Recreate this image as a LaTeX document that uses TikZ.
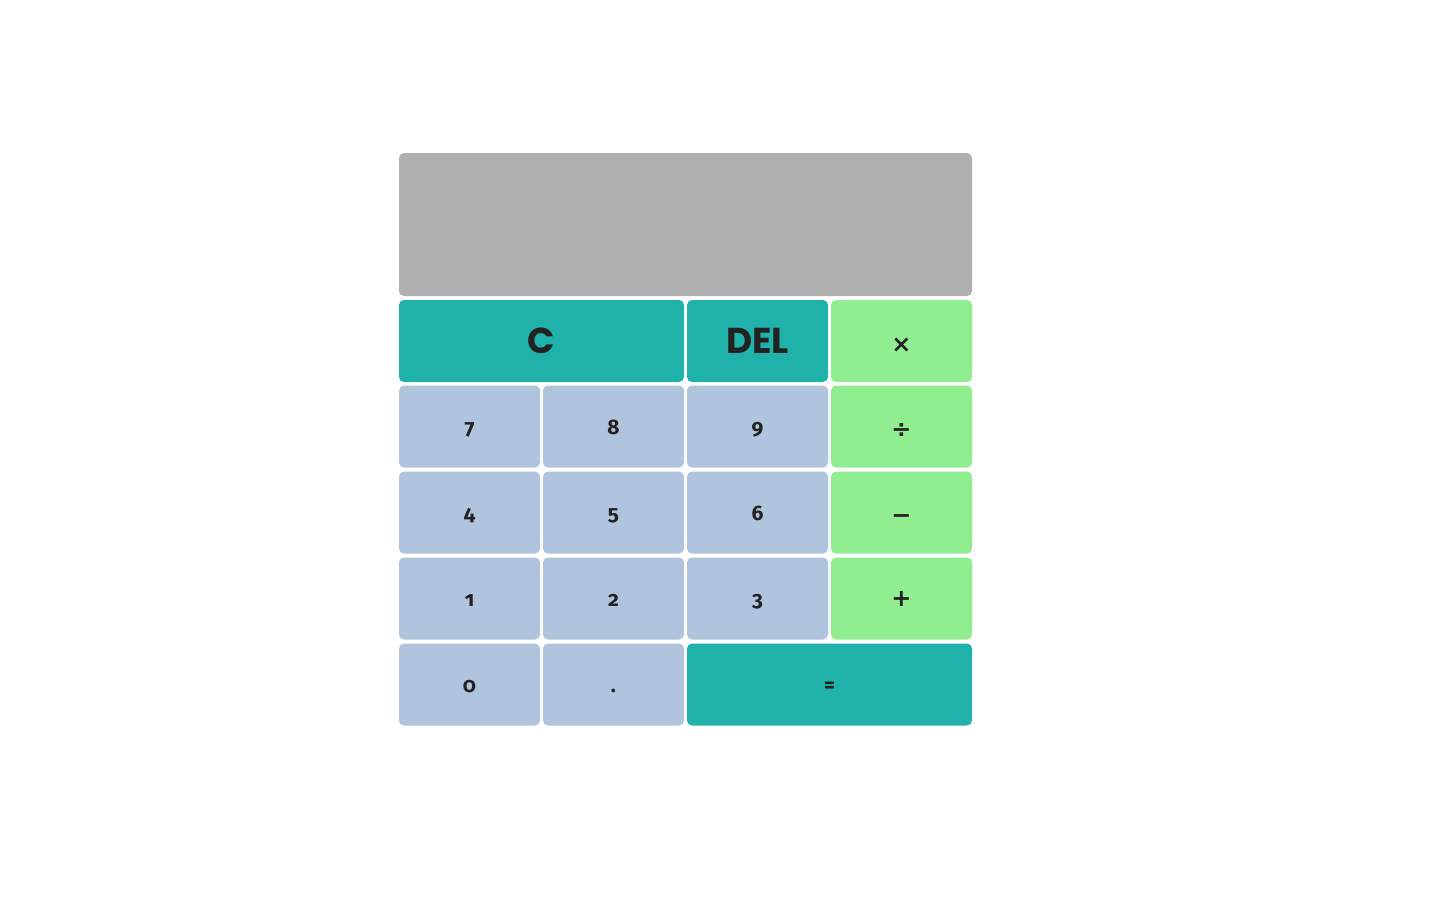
\documentclass[tikz,border=0pt]{standalone}
\usepackage{fontspec}
\setmainfont{Fira Sans}[Numbers=OldStyle]
\newfontfamily\letterfont{Poppins}
\newfontfamily\opfont{DejaVu Sans}
\usetikzlibrary{positioning}

\definecolor{screengray}{HTML}{B0B0B0}
\definecolor{seagreen}{HTML}{20B2AA}
\definecolor{softgreen}{HTML}{90EE90}
\definecolor{steelblue}{HTML}{B0C4DE}
\definecolor{keyink}{HTML}{222222}

\tikzset{
  key/.style={rectangle, rounded corners=5pt, minimum width=141pt, minimum height=82pt,
    inner sep=0pt, text=keyink, font=\fontsize{21}{21}\selectfont\bfseries,
    text height=15pt, text depth=0pt},
  numkey/.style={key, fill=steelblue},
  opkey/.style={key, fill=softgreen, font=\opfont\fontsize{24}{24}\selectfont\bfseries},
  fnkey/.style={key, fill=seagreen},
  bigtext/.style={font=\letterfont\fontsize{36}{36}\selectfont\bfseries, text height=24pt}
}

\begin{document}
\begin{tikzpicture}[x=1pt, y=-1pt]
\useasboundingbox (0,0) rectangle (1444,914);

% display
\node[fill=screengray, rounded corners=5pt, minimum width=573pt, minimum height=143pt, inner sep=0pt] (screen) at (685.5,224.5) {};

% top row
\node[fnkey, bigtext, minimum width=285pt] (clear) at (541.5,341) {C};
\node[fnkey, bigtext] (del) at (757.5,341) {DEL};
\node[opkey] (times) at (901.5,341) {\raisebox{-4pt}{×}};

% digits
\foreach \d/\x/\y in {7/469.5/426.5, 8/613.5/426.5, 9/757.5/426.5,
                      4/469.5/512.5, 5/613.5/512.5, 6/757.5/512.5,
                      1/469.5/598.5, 2/613.5/598.5, 3/757.5/598.5}
  \node[numkey] (key\d) at (\x,\y) {\d};

\node[numkey] (key0) at (469.5,684.5) {0};
\node[numkey] (point) at (613.5,684.5) {.};

% operators
\node[opkey] (divide) at (901.5,426.5) {\raisebox{-3.5pt}{÷}};
\node[opkey] (minus) at (901.5,512.5) {\raisebox{-3.5pt}{−}};
\node[opkey] (plus) at (901.5,598.5) {+};
\node[fnkey, minimum width=285pt] (equals) at (829.5,684.5) {=};

\end{tikzpicture}
\end{document}
